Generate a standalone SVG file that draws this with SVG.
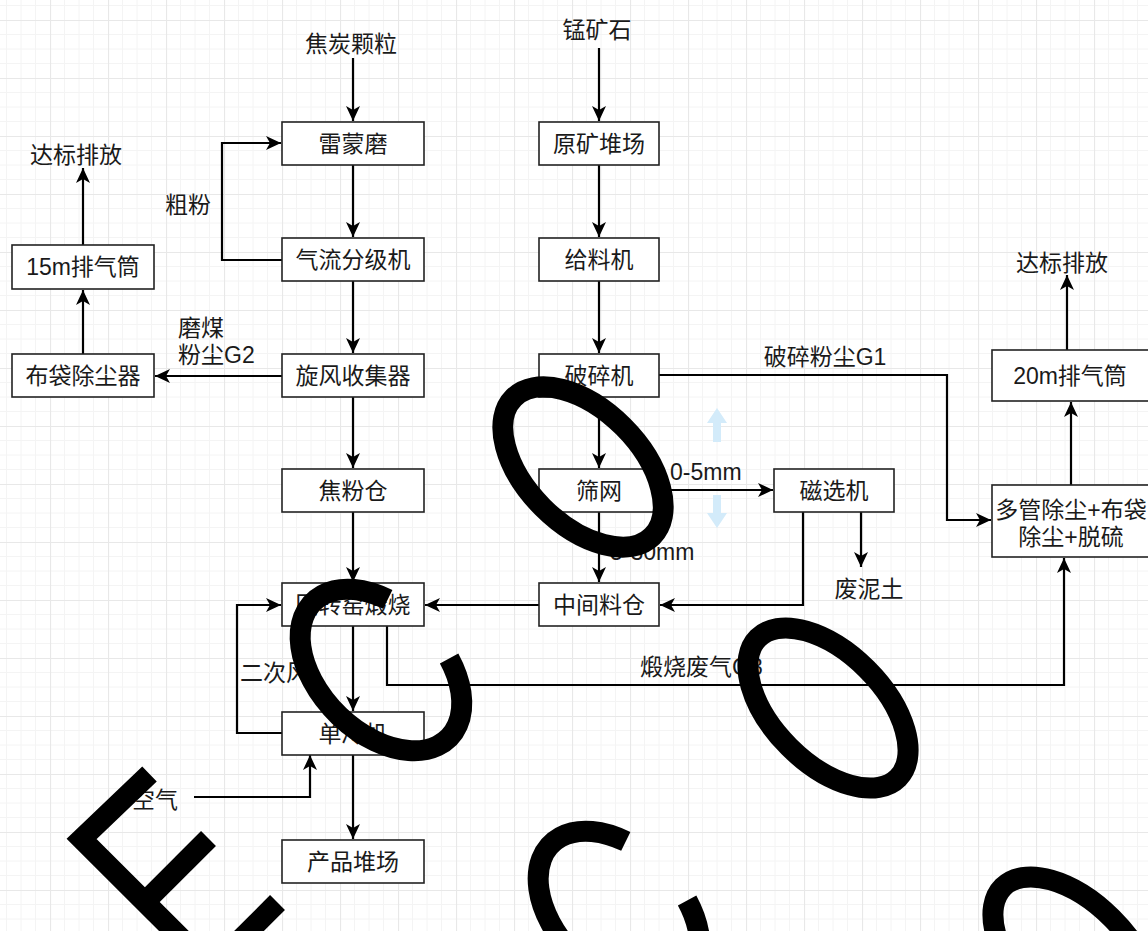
<svg xmlns="http://www.w3.org/2000/svg" width="1148" height="931" viewBox="0 0 1148 931">
<style>
.box{fill:#fff;stroke:#222;stroke-width:1.6}
.t{font-family:"Liberation Sans","Noto Sans CJK SC",sans-serif;font-size:23px;fill:#1a1a1a;dominant-baseline:central}
.c{text-anchor:middle}
.e{stroke:#000;stroke-width:2.2;fill:none}
.ea{stroke:#000;stroke-width:2.2;fill:none;marker-end:url(#arr)}
.wm{stroke:#000;fill:none;stroke-width:21}
.hint{fill:#d3ebfa}
</style>
<defs>
<pattern id="grid" patternUnits="userSpaceOnUse" x="50" y="20" width="58" height="58">
<path d="M14.5 0V58M29 0V58M43.5 0V58M0 14.5H58M0 29H58M0 43.5H58" stroke="#f4f4f4" stroke-width="1" fill="none"/>
<path d="M0.5 0V58M0 0.5H58" stroke="#e8e8e8" stroke-width="1.2" fill="none"/>
</pattern>
<marker id="arr" markerUnits="userSpaceOnUse" markerWidth="16" markerHeight="16" refX="15" refY="8" orient="auto">
<path d="M0,1 L15,8 L0,15 L4,8 Z" fill="#000"/>
</marker>
</defs>
<rect width="1148" height="931" fill="#fff"/>
<rect width="1148" height="931" fill="url(#grid)"/>

<g id="connectors">
<path class="ea" d="M353 58V121"/>
<path class="ea" d="M353 165V237"/>
<path class="ea" d="M282 260H222V143H281"/>
<path class="ea" d="M353 281V353"/>
<path class="ea" d="M282 376H155"/>
<path class="ea" d="M83 354V290"/>
<path class="ea" d="M83 245V168"/>
<path class="ea" d="M353 397V468"/>
<path class="ea" d="M353 512V582"/>
<path class="ea" d="M353 626V711"/>
<path class="ea" d="M282 733H237V605H281"/>
<path class="ea" d="M194 797H310V755"/>
<path class="ea" d="M353 754V839"/>
<path class="ea" d="M387 626V685H1064V558"/>
<path class="ea" d="M599 48V121"/>
<path class="ea" d="M599 165V237"/>
<path class="ea" d="M599 281V353"/>
<path class="ea" d="M659 375H947V520H991"/>
<path class="ea" d="M599 397V468"/>
<path class="ea" d="M659 490H773"/>
<path class="ea" d="M599 512V582"/>
<path class="ea" d="M803 512V605H660"/>
<path class="ea" d="M861 512V567"/>
<path class="ea" d="M539 605H425"/>
<path class="ea" d="M1071 485V402"/>
<path class="ea" d="M1067 350V275"/>
</g>

<g id="labels">
<text class="t c" x="351" y="44">焦炭颗粒</text>
<text class="t c" x="597" y="30">锰矿石</text>
<text class="t c" x="76" y="155">达标排放</text>
<text class="t c" x="1062" y="263">达标排放</text>
<text class="t c" x="188" y="205">粗粉</text>
<text class="t" x="178" y="328">磨煤</text>
<text class="t" x="178" y="355">粉尘G2</text>
<text class="t c" x="825" y="357">破碎粉尘G1</text>
<text class="t" x="670" y="472">0-5mm</text>
<text class="t" x="610" y="552">5-30mm</text>
<text class="t c" x="869" y="589">废泥土</text>
<text class="t" x="640" y="667">煅烧废气G3</text>
<text class="t" x="240" y="673">二次风</text>
<text class="t" x="178" y="800" text-anchor="end">空气</text>
</g>

<g id="n-leimengmo"><rect class="box" x="282" y="122" width="142" height="43"/><text class="t c" x="353" y="144">雷蒙磨</text></g>
<g id="n-qiliu"><rect class="box" x="282" y="238" width="142" height="43"/><text class="t c" x="353" y="260">气流分级机</text></g>
<g id="n-xuanfeng"><rect class="box" x="282" y="354" width="142" height="43"/><text class="t c" x="353" y="376">旋风收集器</text></g>
<g id="n-jiaofen"><rect class="box" x="282" y="469" width="142" height="43"/><text class="t c" x="353" y="491">焦粉仓</text></g>
<g id="n-huizhuan"><rect class="box" x="282" y="583" width="142" height="43"/><text class="t c" x="353" y="605">回转窑煅烧</text></g>
<g id="n-danleng"><rect class="box" x="282" y="712" width="142" height="43"/><text class="t c" x="353" y="734">单冷机</text></g>
<g id="n-chanpin"><rect class="box" x="282" y="840" width="142" height="43"/><text class="t c" x="353" y="862">产品堆场</text></g>
<g id="n-15m"><rect class="box" x="12" y="245" width="142" height="44"/><text class="t c" x="83" y="267">15m排气筒</text></g>
<g id="n-budai"><rect class="box" x="12" y="354" width="142" height="43"/><text class="t c" x="83" y="376">布袋除尘器</text></g>
<g id="n-yuankuang"><rect class="box" x="539" y="122" width="120" height="43"/><text class="t c" x="599" y="144">原矿堆场</text></g>
<g id="n-geiliao"><rect class="box" x="539" y="238" width="120" height="43"/><text class="t c" x="599" y="260">给料机</text></g>
<g id="n-posui"><rect class="box" x="539" y="354" width="120" height="43"/><text class="t c" x="599" y="376">破碎机</text></g>
<g id="n-shaiwang"><rect class="box" x="539" y="469" width="120" height="43"/><text class="t c" x="599" y="491">筛网</text></g>
<g id="n-zhongjian"><rect class="box" x="539" y="583" width="120" height="43"/><text class="t c" x="599" y="605">中间料仓</text></g>
<g id="n-cixuan"><rect class="box" x="774" y="469" width="120" height="43"/><text class="t c" x="834" y="491">磁选机</text></g>
<g id="n-duoguan"><rect class="box" x="992" y="485" width="172" height="72"/><text class="t c" x="1071" y="510">多管除尘+布袋</text><text class="t c" x="1071" y="537">除尘+脱硫</text></g>
<g id="n-20m"><rect class="box" x="992" y="350" width="172" height="51"/><text class="t c" x="1070" y="376">20m排气筒</text></g>

<g id="hints">
<path class="hint" d="M717 408L727 423H721V442H713V423H707Z"/>
<path class="hint" d="M717 528L727 513H721V495H713V513H707Z"/>
</g>

<g id="marks">
<ellipse class="wm" cx="583" cy="467" rx="98" ry="57" transform="rotate(45 583 467)"/>
<path class="wm" d="M387.8 599.4A96 62 45 1 0 449.1 658.4"/>
<ellipse class="wm" cx="828" cy="708" rx="99" ry="55" transform="rotate(45 828 708)"/>
<path class="wm" transform="translate(238 242)" d="M387.8 599.4A96 62 45 1 0 449.1 658.4"/>
<ellipse class="wm" cx="1073" cy="957" rx="99" ry="55" transform="rotate(45 1073 957)"/>
<path class="wm" stroke-width="22" stroke-linejoin="miter" d="M149.5 774L81.6 839L200 957"/>
<path class="wm" stroke-width="22" d="M208.5 838.5L144.8 902.2"/>
<path class="wm" stroke-width="22" d="M277.5 902.5L240 940"/>
</g>
</svg>
